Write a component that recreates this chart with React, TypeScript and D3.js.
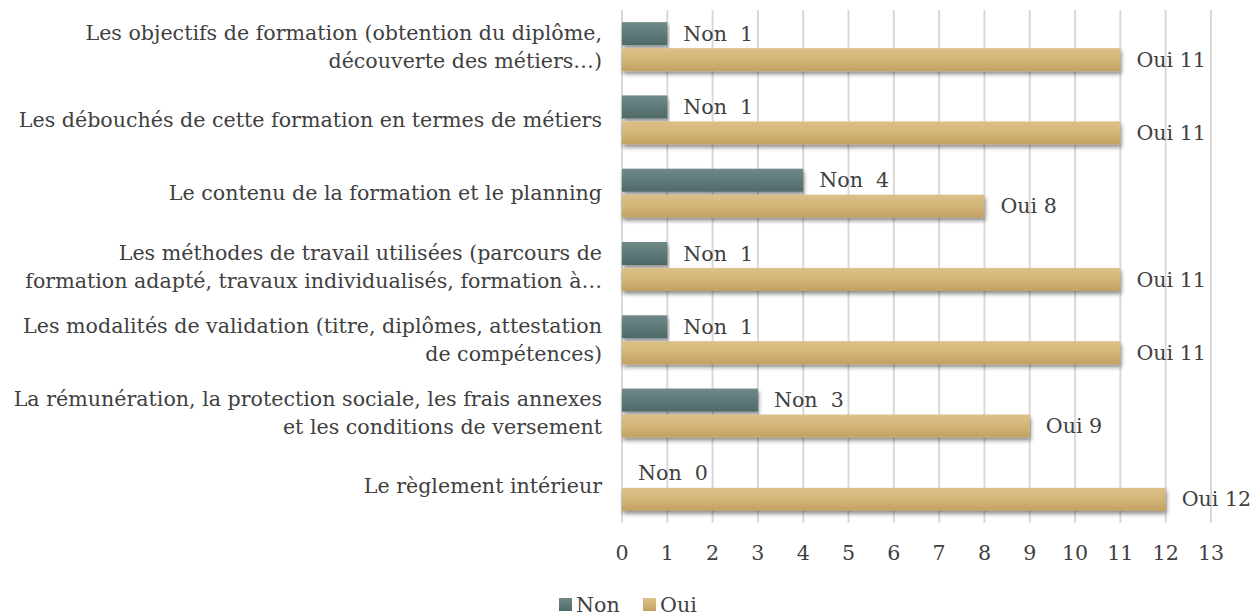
import React from "react";
import * as d3 from "d3";

const categories: string[][] = [
  ["Les objectifs de formation (obtention du diplôme,", "découverte des métiers…)"],
  ["Les débouchés de cette formation en termes de métiers"],
  ["Le contenu de la formation et le planning"],
  ["Les méthodes de travail utilisées (parcours de", "formation adapté, travaux individualisés, formation à…"],
  ["Les modalités de validation (titre, diplômes, attestation", "de compétences)"],
  ["La rémunération, la protection sociale, les frais annexes", "et les conditions de versement"],
  ["Le règlement intérieur"],
];
const nonValues = [1, 1, 4, 1, 1, 3, 0];
const ouiValues = [11, 11, 8, 11, 11, 9, 12];
const ticks = [0, 1, 2, 3, 4, 5, 6, 7, 8, 9, 10, 11, 12, 13];
const seriesNames = ["Non", "Oui"];

const W = 1250, H = 616;
const FONT = "'DejaVu Serif', serif";
const TXT = "#404040";
const FS = 20.6;

export default function App() {
  const x = d3.scaleLinear().domain([0, 13]).range([622, 1211]);
  const y = d3.scaleBand<number>().domain(d3.range(categories.length)).range([10, 523]);
  const bw = 23;
  const gap = 3;
  return (
    <svg width={W} height={H} style={{ position: "absolute", left: 0, top: 0, background: "#fff" }}>
      <defs>
        <linearGradient id="gNon" x1="0" y1="0" x2="0" y2="1">
          <stop offset="0" stopColor="#6f8a88" />
          <stop offset="1" stopColor="#4e6967" />
        </linearGradient>
        <linearGradient id="gOui" x1="0" y1="0" x2="0" y2="1">
          <stop offset="0" stopColor="#dcc088" />
          <stop offset="0.5" stopColor="#d3b577" />
          <stop offset="1" stopColor="#c2a162" />
        </linearGradient>
        <filter id="sh" x="-5%" y="-50%" width="110%" height="220%">
          <feGaussianBlur in="SourceAlpha" stdDeviation="2" />
          <feOffset dx="1" dy="3" result="b" />
          <feComponentTransfer><feFuncA type="linear" slope="0.45" /></feComponentTransfer>
          <feMerge><feMergeNode /><feMergeNode in="SourceGraphic" /></feMerge>
        </filter>
      </defs>
      {ticks.map((t) => (
        <line key={"g" + t} x1={x(t)} x2={x(t)} y1={10} y2={523} stroke="#d9d9d9" strokeWidth={2} />
      ))}
      {ticks.map((t) => (
        <text key={"t" + t} x={x(t)} y={560} textAnchor="middle" fontFamily={FONT} fontSize={FS} fill={TXT}>{t}</text>
      ))}
      {categories.map((lines, i) => {
        const c = (y(i) as number) + y.bandwidth() / 2;
        const yNon = c - gap / 2 - bw;
        const yOui = c + gap / 2;
        const lh = 28;
        const y0 = c - ((lines.length - 1) * lh) / 2 + 7;
        return (
          <g key={i}>
            {lines.map((l, k) => (
              <text key={k} x={602} y={y0 + k * lh} textAnchor="end" fontFamily={FONT} fontSize={FS} fill={TXT}>{l}</text>
            ))}
            {nonValues[i] > 0 && (
              <rect x={x(0)} y={yNon} width={x(nonValues[i]) - x(0)} height={bw} fill="url(#gNon)" filter="url(#sh)" />
            )}
            <rect x={x(0)} y={yOui} width={x(ouiValues[i]) - x(0)} height={bw} fill="url(#gOui)" filter="url(#sh)" />
            <text x={x(nonValues[i]) + 16} y={yNon + bw / 2 + 7} fontFamily={FONT} fontSize={FS} fill={TXT} xmlSpace="preserve">{seriesNames[0] + "  " + nonValues[i]}</text>
            <text x={x(ouiValues[i]) + 16} y={yOui + bw / 2 + 7} fontFamily={FONT} fontSize={FS} fill={TXT}>{seriesNames[1] + " " + ouiValues[i]}</text>
          </g>
        );
      })}
      <g>
        <rect x={559} y={598} width={13} height={13} fill="url(#gNon)" />
        <text x={576} y={612} fontFamily={FONT} fontSize={FS} fill={TXT}>{seriesNames[0]}</text>
        <rect x={643} y={598} width={13} height={13} fill="url(#gOui)" />
        <text x={660} y={612} fontFamily={FONT} fontSize={FS} fill={TXT}>{seriesNames[1]}</text>
      </g>
    </svg>
  );
}
